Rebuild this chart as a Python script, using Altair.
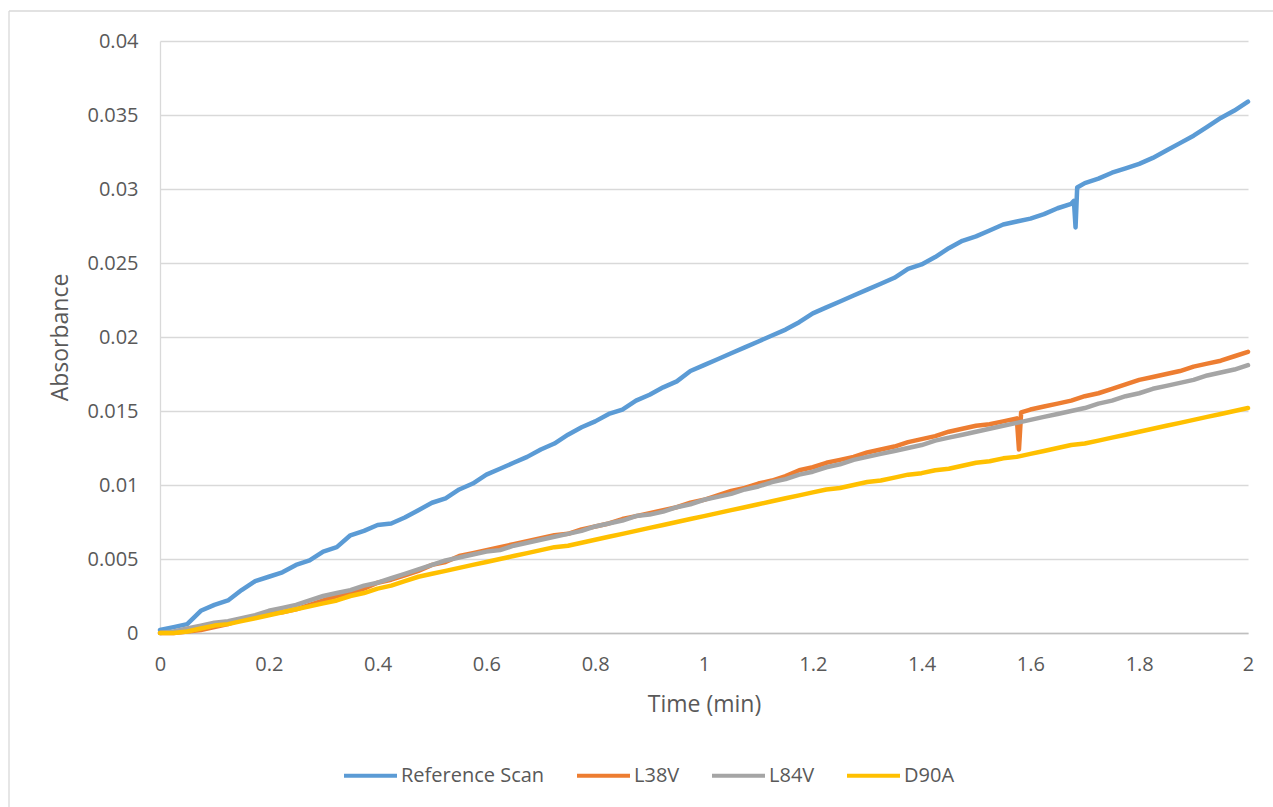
import altair as alt
import pandas as pd

# Sample times (min), every 0.025 min
TIME = [round(i * 0.025, 3) for i in range(81)]

SERIES = ["Reference Scan", "L38V", "L84V", "D90A"]
COLORS = ["#5B9BD5", "#ED7D31", "#A5A5A5", "#FFC000"]

REF = [0.0002, 0.0004, 0.0006, 0.0015, 0.0019, 0.0022, 0.0029, 0.0035, 0.0038, 0.0041,
       0.0046, 0.0049, 0.0055, 0.0058, 0.0066, 0.0069, 0.0073, 0.0074, 0.0078, 0.0083,
       0.0088, 0.0091, 0.0097, 0.0101, 0.0107, 0.0111, 0.0115, 0.0119, 0.0124, 0.0128,
       0.0134, 0.0139, 0.0143, 0.0148, 0.0151, 0.0157, 0.0161, 0.0166, 0.0170, 0.0177,
       0.0181, 0.0185, 0.0189, 0.0193, 0.0197, 0.0201, 0.0205, 0.0210, 0.0216, 0.0220,
       0.0224, 0.0228, 0.0232, 0.0236, 0.0240, 0.0246, 0.0249, 0.0254, 0.0260, 0.0265,
       0.0268, 0.0272, 0.0276, 0.0278, 0.0280, 0.0283, 0.0287, 0.0290, 0.0304, 0.0307,
       0.0311, 0.0314, 0.0317, 0.0321, 0.0326, 0.0331, 0.0336, 0.0342, 0.0348, 0.0353,
       0.0359]
REF_SPIKE_T = [1.680, 1.683, 1.686]
REF_SPIKE_V = [0.0292, 0.0274, 0.0301]

L38V = [0.0000, 0.0000, 0.0001, 0.0002, 0.0004, 0.0006, 0.0009, 0.0011, 0.0013, 0.0014,
        0.0016, 0.0019, 0.0022, 0.0025, 0.0027, 0.0030, 0.0034, 0.0036, 0.0039, 0.0042,
        0.0046, 0.0048, 0.0052, 0.0054, 0.0056, 0.0058, 0.0060, 0.0062, 0.0064, 0.0066,
        0.0067, 0.0070, 0.0072, 0.0074, 0.0077, 0.0079, 0.0081, 0.0083, 0.0085, 0.0088,
        0.0090, 0.0093, 0.0096, 0.0098, 0.0101, 0.0103, 0.0106, 0.0110, 0.0112, 0.0115,
        0.0117, 0.0119, 0.0122, 0.0124, 0.0126, 0.0129, 0.0131, 0.0133, 0.0136, 0.0138,
        0.0140, 0.0141, 0.0143, 0.0145, 0.0151, 0.0153, 0.0155, 0.0157, 0.0160, 0.0162,
        0.0165, 0.0168, 0.0171, 0.0173, 0.0175, 0.0177, 0.0180, 0.0182, 0.0184, 0.0187,
        0.0190]
L38V_SPIKE_T = [1.579, 1.583]
L38V_SPIKE_V = [0.0124, 0.0149]

L84V = [0.0000, 0.0001, 0.0003, 0.0005, 0.0007, 0.0008, 0.0010, 0.0012, 0.0015, 0.0017,
        0.0019, 0.0022, 0.0025, 0.0027, 0.0029, 0.0032, 0.0034, 0.0037, 0.0040, 0.0043,
        0.0046, 0.0049, 0.0051, 0.0053, 0.0055, 0.0056, 0.0059, 0.0061, 0.0063, 0.0065,
        0.0067, 0.0069, 0.0072, 0.0074, 0.0076, 0.0079, 0.0080, 0.0082, 0.0085, 0.0087,
        0.0090, 0.0092, 0.0094, 0.0097, 0.0099, 0.0102, 0.0104, 0.0107, 0.0109, 0.0112,
        0.0114, 0.0117, 0.0119, 0.0121, 0.0123, 0.0125, 0.0127, 0.0130, 0.0132, 0.0134,
        0.0136, 0.0138, 0.0140, 0.0142, 0.0144, 0.0146, 0.0148, 0.0150, 0.0152, 0.0155,
        0.0157, 0.0160, 0.0162, 0.0165, 0.0167, 0.0169, 0.0171, 0.0174, 0.0176, 0.0178,
        0.0181]

D90A = [0.0000, 0.0000, 0.0001, 0.0003, 0.0005, 0.0006, 0.0008, 0.0010, 0.0012, 0.0014,
        0.0016, 0.0018, 0.0020, 0.0022, 0.0025, 0.0027, 0.0030, 0.0032, 0.0035, 0.0038,
        0.0040, 0.0042, 0.0044, 0.0046, 0.0048, 0.0050, 0.0052, 0.0054, 0.0056, 0.0058,
        0.0059, 0.0061, 0.0063, 0.0065, 0.0067, 0.0069, 0.0071, 0.0073, 0.0075, 0.0077,
        0.0079, 0.0081, 0.0083, 0.0085, 0.0087, 0.0089, 0.0091, 0.0093, 0.0095, 0.0097,
        0.0098, 0.0100, 0.0102, 0.0103, 0.0105, 0.0107, 0.0108, 0.0110, 0.0111, 0.0113,
        0.0115, 0.0116, 0.0118, 0.0119, 0.0121, 0.0123, 0.0125, 0.0127, 0.0128, 0.0130,
        0.0132, 0.0134, 0.0136, 0.0138, 0.0140, 0.0142, 0.0144, 0.0146, 0.0148, 0.0150,
        0.0152]

X_TICKS = [0, 0.2, 0.4, 0.6, 0.8, 1, 1.2, 1.4, 1.6, 1.8, 2]
Y_TICKS = [0, 0.005, 0.01, 0.015, 0.02, 0.025, 0.03, 0.035, 0.04]

rows = []
for name, vals, st, sv in [
    ("Reference Scan", REF, REF_SPIKE_T, REF_SPIKE_V),
    ("L38V", L38V, L38V_SPIKE_T, L38V_SPIKE_V),
    ("L84V", L84V, [], []),
    ("D90A", D90A, [], []),
]:
    pts = list(zip(TIME, vals)) + list(zip(st, sv))
    pts.sort(key=lambda p: p[0])
    for t, v in pts:
        rows.append({"series": name, "time": t, "absorbance": v})
df = pd.DataFrame(rows)

FONT = "Open Sans"
TXT = "#595959"

color = alt.Color(
    "series:N",
    scale=alt.Scale(domain=SERIES, range=COLORS),
    legend=alt.Legend(
        title=None,
        orient="none",
        legendX=182,
        legendY=706,
        direction="horizontal",
        columns=4,
        symbolType="stroke",
        symbolSize=2809,
        symbolStrokeWidth=4,
        labelOffset=2,
        columnPadding=24,
        labelFont=FONT,
        labelFontSize=20,
        labelColor=TXT,
        padding=0,
    ),
)

x = alt.X(
    "time:Q",
    scale=alt.Scale(domain=[0, 2], nice=False, zero=False),
    axis=alt.Axis(
        values=X_TICKS,
        labelExpr="format(datum.value, '~g')",
        title="Time (min)",
        titleX=544,
        titleY=71,
        titleBaseline="middle",
        titleAlign="center",
        titleFont=FONT,
        titleFontSize=23,
        titleFontWeight="normal",
        titleColor=TXT,
        labelFont=FONT,
        labelFontSize=20,
        labelColor=TXT,
        labelBaseline="middle",
        labelPadding=31,
        ticks=False,
        tickSize=0,
        grid=False,
        domainColor="#BFBFBF",
        domainWidth=1.5,
        labelFlush=False,
        labelOverlap=False,
    ),
)

y = alt.Y(
    "absorbance:Q",
    scale=alt.Scale(domain=[0, 0.04], nice=False),
    axis=alt.Axis(
        values=Y_TICKS,
        labelExpr="format(datum.value, '~g')",
        title="Absorbance",
        titleX=-100,
        titleY=296,
        titleAngle=270,
        titleBaseline="middle",
        titleAlign="center",
        titleFont=FONT,
        titleFontSize=23,
        titleFontWeight="normal",
        titleColor=TXT,
        labelFont=FONT,
        labelFontSize=20,
        labelColor=TXT,
        labelPadding=22,
        ticks=False,
        tickSize=0,
        grid=True,
        gridColor="#D9D9D9",
        gridWidth=1.3,
        domainColor="#D9D9D9",
        domainWidth=1.3,
        labelFlush=False,
        labelOverlap=False,
    ),
)

layers = []
for s in SERIES:
    layers.append(
        alt.Chart(df)
        .transform_filter(alt.datum.series == s)
        .mark_line(strokeWidth=4.5, strokeJoin="round", strokeCap="round")
        .encode(x=x, y=y, color=color)
    )

one = pd.DataFrame({"k": [0]})
border_top = alt.Chart(one).mark_rule(color="#D9D9D9", strokeWidth=1.3).encode(
    x=alt.value(-151), x2=alt.value(1200), y=alt.value(-30)
)
border_left = alt.Chart(one).mark_rule(color="#D9D9D9", strokeWidth=1.3).encode(
    x=alt.value(-151), y=alt.value(-30), y2=alt.value(800)
)

chart = (
    alt.layer(border_top, border_left, *layers)
    .properties(
        width=1088,
        height=592,
        autosize=alt.AutoSizeParams(type="none"),
        padding={"left": 160, "top": 41, "right": 25, "bottom": 174},
        background="white",
    )
    .configure_view(stroke=None)
)

chart.save("out.html", embed_options={"renderer": "svg", "actions": False})
